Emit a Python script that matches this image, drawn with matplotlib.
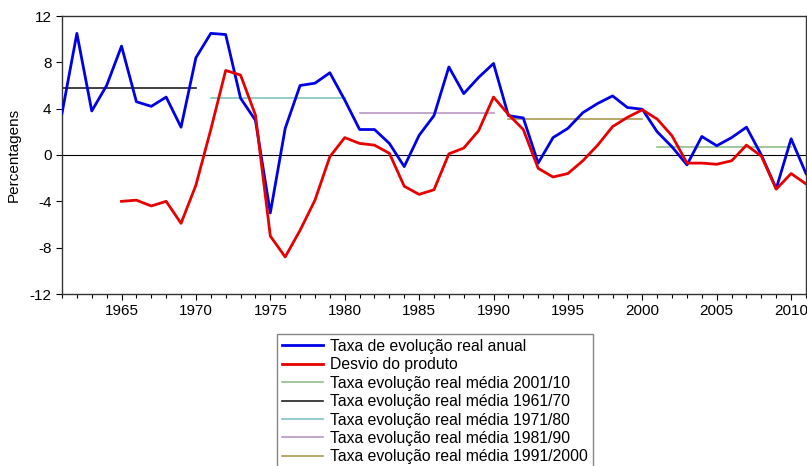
import numpy as np
import matplotlib
matplotlib.use("Agg")
import matplotlib.pyplot as plt
from matplotlib.ticker import MultipleLocator

plt.rcParams['font.family'] = ['Liberation Sans', 'DejaVu Sans']
plt.rcParams['axes.unicode_minus'] = False

years = list(range(1961, 2012))
taxa = [3.6, 10.5, 3.8, 6.0, 9.4, 4.6, 4.2, 5.0, 2.4, 8.4,
        10.5, 10.4, 4.9, 3.0, -5.0, 2.3, 6.0, 6.2, 7.1, 4.75,
        2.2, 2.2, 1.0, -1.0, 1.7, 3.4, 7.6, 5.3, 6.7, 7.9,
        3.4, 3.2, -0.7, 1.5, 2.3, 3.65, 4.45, 5.1, 4.1, 3.95,
        2.0, 0.7, -0.85, 1.6, 0.8, 1.5, 2.4, 0.0, -2.9, 1.4, -1.6]

desvio_years = list(range(1965, 2012))
desvio = [-4.0, -3.9, -4.4, -4.0, -5.9, -2.6,
          2.2, 7.3, 6.9, 3.45, -7.0, -8.8, -6.5, -3.9, -0.15, 1.5,
          1.0, 0.85, 0.15, -2.7, -3.4, -3.0, 0.1, 0.6, 2.1, 5.0,
          3.5, 2.2, -1.15, -1.9, -1.6, -0.5, 0.85, 2.45, 3.25, 3.9,
          3.1, 1.65, -0.7, -0.7, -0.8, -0.5, 0.85, -0.1, -2.95, -1.6, -2.5]

# medias por decada: (inicio, fim, valor)
medias = {
    "2001/10": (2001, 2010, 0.65),
    "1961/70": (1961, 1970, 5.75),
    "1971/80": (1971, 1980, 4.9),
    "1981/90": (1981, 1990, 3.65),
    "1991/2000": (1991, 2000, 3.1),
}
cores_medias = {
    "2001/10": "#8fbf8a",
    "1961/70": "#202020",
    "1971/80": "#7fc4c4",
    "1981/90": "#b896c4",
    "1991/2000": "#a89a50",
}

fig = plt.figure(figsize=(8.07, 4.66), dpi=100)
ax = fig.add_axes([62/807, 1-294/466, 744/807, 278/466])

ax.axhline(0, color="black", lw=0.8, zorder=1)

h_taxa, = ax.plot(years, taxa, color="#0000e6", lw=2.0, label="Taxa de evolução real anual", zorder=3)
h_desv, = ax.plot(desvio_years, desvio, color="#e60000", lw=2.0, label="Desvio do produto", zorder=3)

handles = [h_taxa, h_desv]
for k, (a, b, v) in medias.items():
    h, = ax.plot([a, b], [v, v], color=cores_medias[k], lw=1.2,
                 label="Taxa evolução real média " + k, zorder=2)
    handles.append(h)

ax.set_xlim(1961, 2011)
ax.set_ylim(-12, 12)
ax.set_yticks([-12, -8, -4, 0, 4, 8, 12])
ax.set_xticks(range(1965, 2011, 5))
ax.xaxis.set_minor_locator(MultipleLocator(1))
ax.tick_params(axis="both", labelsize=11, direction="out", length=4, width=0.8)
ax.tick_params(axis="x", which="minor", length=3, width=0.8)
ax.set_ylabel("Percentagens", fontsize=11, labelpad=6)
for s in ax.spines.values():
    s.set_linewidth(1.0)
    s.set_color("#333333")

leg = fig.legend(handles=handles, loc="upper left", bbox_to_anchor=(277/807, 1-334/466),
                 fontsize=11.3, frameon=True, fancybox=False, edgecolor="#666666",
                 handlelength=2.6, labelspacing=0.22, borderpad=0.3, handletextpad=0.5,
                 borderaxespad=0)
leg.get_frame().set_linewidth(1.0)

fig.savefig("out.png", dpi=100)
